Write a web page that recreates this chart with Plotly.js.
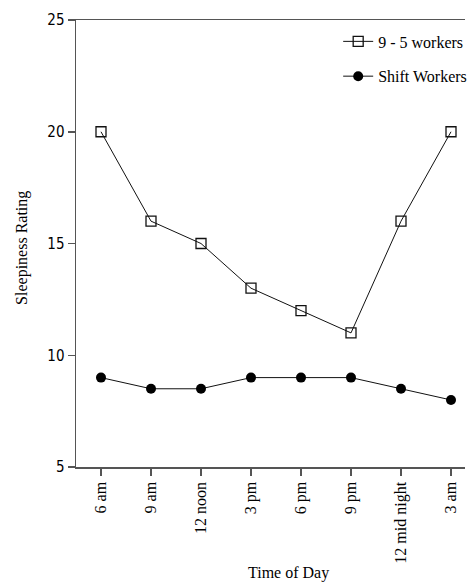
<!DOCTYPE html>
<html>
<head>
<meta charset="utf-8">
<script src="https://cdn.plot.ly/plotly-3.0.1.min.js"></script>
<style>html,body{margin:0;padding:0;background:#fff;}#chart{width:473px;height:583px;}</style>
</head>
<body>
<div id="chart"></div>
<script>
const timeLabels = ["6 am", "9 am", "12 noon", "3 pm", "6 pm", "9 pm", "12 mid night", "3 am"];
const nineToFive = [20, 16, 15, 13, 12, 11, 16, 20];
const shiftWorkers = [9, 8.5, 8.5, 9, 9, 9, 8.5, 8];
const seriesNames = ["9 - 5 workers", "Shift Workers"];
const yTicks = [5, 10, 15, 20, 25];

const serif = "Liberation Serif, Times New Roman, serif";

const traces = [
  {
    x: timeLabels, y: nineToFive, name: seriesNames[0], type: "scatter", mode: "lines+markers",
    legendgroup: "a",
    line: {color: "#111", width: 1},
    marker: {symbol: "square-open", size: 10, color: "#111", line: {width: 1.3, color: "#111"}}
  },
  {
    x: timeLabels, y: shiftWorkers, name: seriesNames[1], type: "scatter", mode: "lines+markers",
    legendgroup: "b",
    line: {color: "#111", width: 1},
    marker: {symbol: "circle", size: 10, color: "#000"}
  }
];

const layout = {
  width: 473, height: 583,
  margin: {l: 76, r: 1, t: 20, b: 116},
  paper_bgcolor: "#fff", plot_bgcolor: "#fff",
  showlegend: true,
  legend: {
    x: 0.674, xanchor: "left", y: 0.99, yanchor: "top",
    font: {family: serif, size: 16, color: "#000"},
    tracegroupgap: 11, bgcolor: "rgba(0,0,0,0)"
  },
  xaxis: {
    type: "category", range: [-0.5, 7.28],
    showline: true, linecolor: "#555", linewidth: 1.5, mirror: true,
    showgrid: false, zeroline: false,
    ticks: "outside", ticklen: 7, tickcolor: "#555", tickwidth: 1.5,
    tickangle: -90,
    tickfont: {family: serif, size: 16, color: "#000"}
  },
  yaxis: {
    range: [5, 25], tickvals: yTicks,
    showline: true, linecolor: "#555", linewidth: 1.5,
    showgrid: false, zeroline: false,
    ticks: "outside", ticklen: 7, tickcolor: "#555", tickwidth: 1.5,
    tickfont: {family: "DejaVu Sans Condensed, Liberation Sans, sans-serif", size: 15, color: "#000"}
  },
  annotations: [
    {text: "Time of Day", xref: "paper", yref: "paper", x: 0.545, y: -0.237,
     xanchor: "center", yanchor: "middle", showarrow: false,
     font: {family: serif, size: 16, color: "#000"}},
    {text: "Sleepiness Rating", xref: "paper", yref: "paper", x: -0.139, y: 0.49,
     xanchor: "center", yanchor: "middle", showarrow: false, textangle: -90,
     font: {family: serif, size: 16, color: "#000"}}
  ]
};

Plotly.newPlot("chart", traces, layout, {staticPlot: true, displayModeBar: false});
</script>
</body>
</html>
